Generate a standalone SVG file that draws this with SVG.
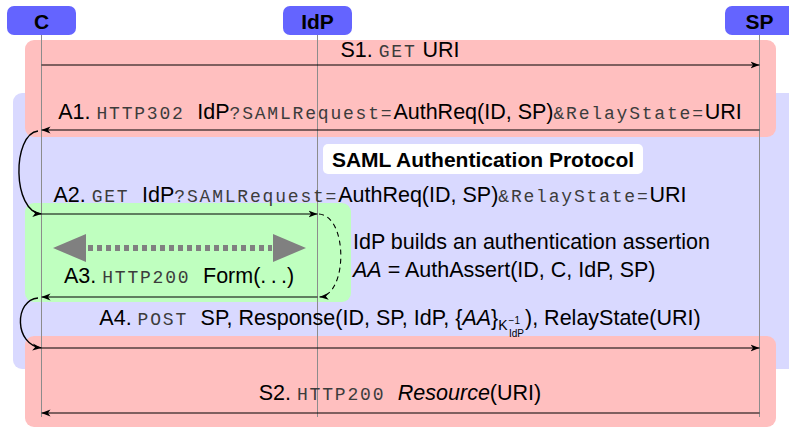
<svg xmlns="http://www.w3.org/2000/svg" width="789" height="428" viewBox="0 0 789 428">
  <defs>
    <style>
      .sans { font-family: "Liberation Sans", Arial, sans-serif; font-size: 21.5px; fill: #000; }
      .tt { font-family: "Liberation Mono", "Courier New", monospace; font-size: 18px; letter-spacing: 1.8px; fill: #3c3c3c; }
      .it { font-style: italic; }
      .hdr { font-family: "Liberation Sans", Arial, sans-serif; font-weight: bold; font-size: 21px; text-anchor: middle; fill: #000; }
      .actor { fill: #6464ff; }
      .life { stroke: #8c8c8c; stroke-width: 1; fill: none; }
      .msg { stroke: #000; stroke-width: 1.1; fill: none; marker-end: url(#tip); }
      .loop { stroke: #000; stroke-width: 1.4; fill: none; marker-end: url(#tip); }
      .dash { stroke: #000; stroke-width: 1.1; fill: none; stroke-dasharray: 5 4; marker-end: url(#tip); }
    </style>
    <marker id="tip" viewBox="0 -4 9 8" refX="9" refY="0" markerWidth="9" markerHeight="8" markerUnits="userSpaceOnUse" orient="auto">
      <path d="M0,-3.5 L9,0 L0,3.5 L2.5,0 z" fill="#000"/>
    </marker>
  </defs>

  <!-- phase backgrounds -->
  <g id="phases">
    <rect x="13" y="93" width="800" height="276" rx="9" fill="#d9d9ff"/>
    <rect x="25" y="40" width="751" height="97" rx="9" fill="#ffbfbf"/>
    <rect x="25" y="336" width="751" height="91" rx="9" fill="#ffbfbf"/>
    <rect x="25" y="203" width="326" height="99" rx="9" fill="#bfffbf"/>
  </g>

  <g id="saml-label">
    <rect x="323" y="144" width="320" height="30" rx="5" fill="#ffffff"/>
    <text class="hdr" x="483" y="167">SAML Authentication Protocol</text>
  </g>

  <!-- participants -->
  <g id="node-c">
    <rect class="actor" x="7" y="6" width="69" height="29" rx="7"/>
    <text class="hdr" x="41.5" y="29">C</text>
    <line class="life" x1="41.5" y1="35" x2="41.5" y2="417"/>
  </g>
  <g id="node-idp">
    <rect class="actor" x="283" y="6" width="69" height="29" rx="7"/>
    <text class="hdr" x="317.5" y="29">IdP</text>
    <line class="life" x1="317.5" y1="35" x2="317.5" y2="417"/>
  </g>
  <g id="node-sp">
    <rect class="actor" x="725" y="6" width="80" height="29" rx="7"/>
    <text class="hdr" x="759.5" y="29">SP</text>
    <line class="life" x1="759.5" y1="35" x2="759.5" y2="417"/>
  </g>

  <!-- messages -->
  <g id="connectors">
    <line class="msg" x1="41.5" y1="65" x2="759.5" y2="65"/>
    <line class="msg" x1="759.5" y1="130" x2="41.5" y2="130"/>
    <path class="loop" d="M38,131 C12,134 12,212 41.5,214"/>
    <line class="msg" x1="41.5" y1="214" x2="317.5" y2="214"/>
    <path class="dash" d="M319,214 C348,216 348,295 319.5,297"/>
    <line class="msg" x1="317.5" y1="297" x2="41.5" y2="297"/>
    <path class="loop" d="M38,298 C14,300 14,345 41.5,348"/>
    <line class="msg" x1="41.5" y1="348" x2="759.5" y2="348"/>
    <line class="msg" x1="759.5" y1="413" x2="41.5" y2="413"/>

    <!-- form exchange between browser and IdP -->
    <g id="form-exchange" fill="#808080">
      <line x1="88" y1="248" x2="272" y2="248" stroke="#808080" stroke-width="6" stroke-dasharray="5 4"/>
      <polygon points="53,248 86,234 86,262"/>
      <polygon points="306,248 273,234 273,262"/>
    </g>
  </g>

  <!-- message labels -->
  <g id="labels">
    <text class="sans" x="400" y="57" text-anchor="middle">S1. <tspan class="tt">GET</tspan> URI</text>
    <text class="sans" x="400" y="119" text-anchor="middle">A1. <tspan class="tt">HTTP302 </tspan>IdP<tspan class="tt">?SAMLRequest=</tspan>AuthReq(ID, SP)<tspan class="tt">&amp;RelayState=</tspan>URI</text>
    <text class="sans" x="370" y="202" text-anchor="middle">A2. <tspan class="tt">GET  </tspan>IdP<tspan class="tt">?SAMLRequest=</tspan>AuthReq(ID, SP)<tspan class="tt">&amp;RelayState=</tspan>URI</text>
    <text class="sans" x="179" y="283" text-anchor="middle">A3. <tspan class="tt">HTTP200 </tspan>Form(.&#8201;.&#8201;.)</text>
    <text class="sans" x="353" y="249">IdP builds an authentication assertion</text>
    <text class="sans" x="353" y="277"><tspan class="it">AA</tspan> = AuthAssert(ID, C, IdP, SP)</text>
    <text class="sans" x="400" y="325" text-anchor="middle">A4. <tspan class="tt">POST </tspan> SP, Response(ID, SP, IdP, {<tspan class="it">AA</tspan>}<tspan font-size="14" dy="5">K</tspan><tspan font-size="10" dx="1" dy="-6">−1</tspan><tspan font-size="10" dx="-11" dy="13">IdP</tspan><tspan dx="1" dy="-12">), RelayState(URI)</tspan></text>
    <text class="sans" x="400" y="400" text-anchor="middle">S2. <tspan class="tt">HTTP200 </tspan> <tspan class="it">Resource</tspan>(URI)</text>
  </g>
</svg>
